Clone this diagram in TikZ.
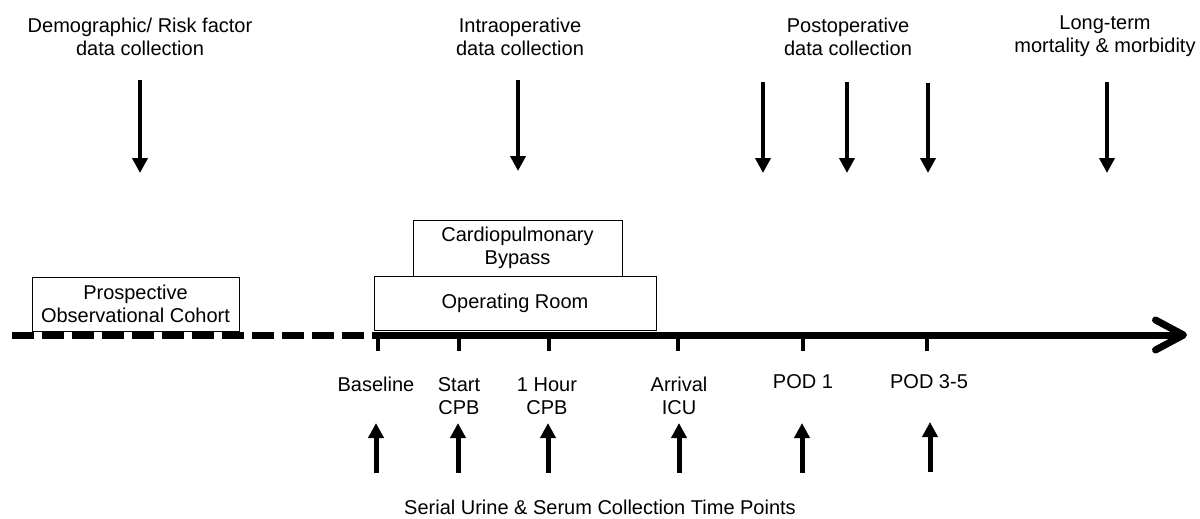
\documentclass[tikz,border=0pt]{standalone}
\usepackage{fontspec}
\setmainfont{Liberation Sans}
\usetikzlibrary{positioning,arrows.meta}

\begin{document}
\begin{tikzpicture}[x=1pt,y=-1pt,
  txt/.style ={align=center,inner sep=0pt,font=\fontsize{20}{23}\selectfont},
  box/.style ={draw,line width=1pt,fill=white,align=center,inner sep=0pt,font=\fontsize{20}{23}\selectfont},
  down/.style={-{Triangle[length=15pt,width=15pt]},line width=4.5pt},
  up/.style  ={-{Triangle[length=15pt,width=15pt]},line width=5pt},
  tline/.style={line width=7pt},
  tick/.style={line width=4pt}]
\useasboundingbox (0,0) rectangle (1200,519);

% phases above the timeline
\node[txt] (demo)  at (140,36.5)  {Demographic/ Risk factor\\ data collection};
\node[txt] (intra) at (520,36.5)  {Intraoperative\\ data collection};
\node[txt] (post)  at (848,36.5)  {Postoperative\\ data collection};
\node[txt] (lterm) at (1105,36.5) {Long-term\\ mortality \& morbidity};

\coordinate (demoA) at (140,80);   \coordinate (demoB) at (140,173);
\coordinate (intraA) at (518,80);  \coordinate (intraB) at (518,171);
\coordinate (postA) at (763,82);   \coordinate (postB) at (763,173);
\coordinate (postC) at (847,82);   \coordinate (postD) at (847,173);
\coordinate (postE) at (928,83);   \coordinate (postF) at (928,173);
\coordinate (ltermA) at (1107,82); \coordinate (ltermB) at (1107,173);

\draw[down] (demoA) -- (demoB);
\draw[down] (intraA) -- (intraB);
\draw[down] (postA) -- (postB);
\draw[down] (postC) -- (postD);
\draw[down] (postE) -- (postF);
\draw[down] (ltermA) -- (ltermB);

% boxes on the timeline
\node[box,minimum width=207pt,minimum height=54pt] (cohort) at (135.5,304) {Prospective\\ Observational Cohort};
\node[box,minimum width=282pt,minimum height=54pt] (or)     at (515,303)   {Operating Room};
\node[box,minimum width=209pt,minimum height=56pt] (cpb)    at (517.5,248) {Cardiopulmonary\\ Bypass};

% timeline
\coordinate (tl0) at (12,335);
\coordinate (tl1) at (374,335);
\coordinate (tl2) at (1187,335);
\draw[tline,dash pattern=on 22pt off 8pt] (tl0) -- (tl1);
\draw[tline,-{Straight Barb[length=28pt,width=30pt,round]}] (tl1) -- (tl2);

\coordinate (base) at (378,335);
\coordinate (scpb) at (459,335);
\coordinate (hcpb) at (549,335);
\coordinate (icu)  at (678,335);
\coordinate (pod1) at (803,335);
\coordinate (pod3) at (927,335);
\draw[tick] (base) -- ++(0,16);
\draw[tick] (scpb) -- ++(0,16);
\draw[tick] (hcpb) -- ++(0,16);
\draw[tick] (icu)  -- ++(0,16);
\draw[tick] (pod1) -- ++(0,16);
\draw[tick] (pod3) -- ++(0,16);

% sampling points
\node[txt] (baseL) at (376,384) {Baseline};
\node[txt] (scpbL) at (459,396) {Start\\ CPB};
\node[txt] (hcpbL) at (547,396) {1 Hour\\ CPB};
\node[txt] (icuL)  at (679,396) {Arrival\\ ICU};
\node[txt] (pod1L) at (803,382) {POD 1};
\node[txt] (pod3L) at (929,382) {POD 3-5};

\coordinate (baseA) at (376,473); \coordinate (baseB) at (376,423);
\coordinate (scpbA) at (458,473); \coordinate (scpbB) at (458,423);
\coordinate (hcpbA) at (548,473); \coordinate (hcpbB) at (548,423);
\coordinate (icuA)  at (679,473); \coordinate (icuB)  at (679,423);
\coordinate (pod1A) at (802,473); \coordinate (pod1B) at (802,423);
\coordinate (pod3A) at (930,472); \coordinate (pod3B) at (930,422);

\draw[up] (baseA) -- (baseB);
\draw[up] (scpbA) -- (scpbB);
\draw[up] (hcpbA) -- (hcpbB);
\draw[up] (icuA)  -- (icuB);
\draw[up] (pod1A) -- (pod1B);
\draw[up] (pod3A) -- (pod3B);

\node[txt] (serial) at (600,507) {Serial Urine \& Serum Collection Time Points};
\end{tikzpicture}
\end{document}
